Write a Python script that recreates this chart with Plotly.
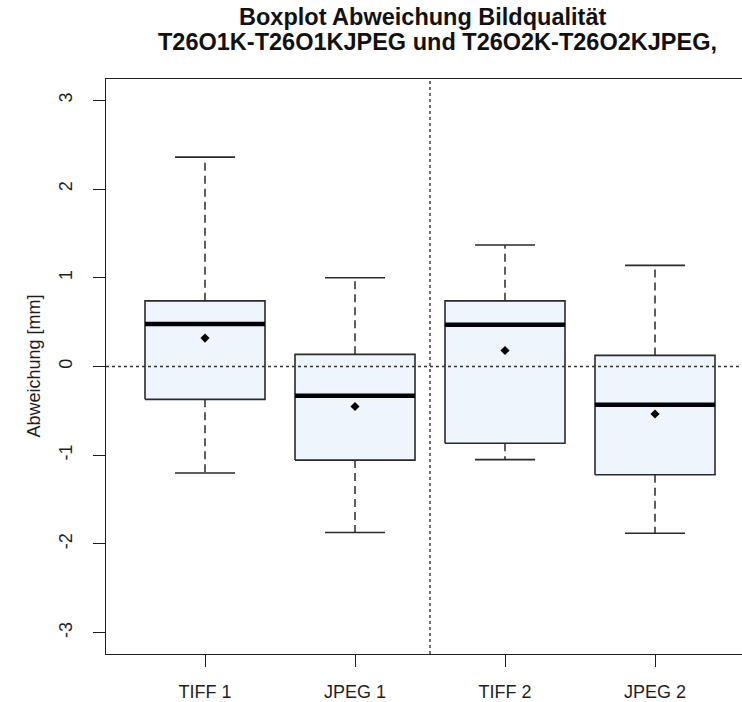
import plotly.graph_objects as go

# Five-number summaries and means per group (deviation in mm)
categories = ["TIFF 1", "JPEG 1", "TIFF 2", "JPEG 2"]
whisker_low = [-1.20, -1.87, -1.05, -1.88]
q1 = [-0.37, -1.055, -0.865, -1.22]
median = [0.48, -0.33, 0.47, -0.43]
q3 = [0.74, 0.137, 0.74, 0.125]
whisker_high = [2.36, 1.00, 1.37, 1.14]
means = [0.32, -0.45, 0.18, -0.535]

y_ticks = [-3, -2, -1, 0, 1, 2, 3]
y_tick_labels = [str(v) for v in y_ticks]
reference_level = 0
group_divider = 2.5

title_lines = ["Boxplot Abweichung Bildqualität",
               "T26O1K-T26O1KJPEG und T26O2K-T26O2KJPEG,"]
title_centers_px = [422, 437]
y_title = "Abweichung [mm]"

FONT = "Liberation Sans, Arial, sans-serif"
INK = "#1e1e1e"
BOX_FILL = "#eef5fd"
HALF_BOX = 0.4      # boxwex 0.8
HALF_CAP = 0.2      # staple half width
PLOT_LEFT, PLOT_WIDTH = 106, 636

fig = go.Figure()

for i, cat in enumerate(categories):
    pos = i + 1
    # box body
    fig.add_trace(go.Scatter(
        x=[pos - HALF_BOX, pos + HALF_BOX, pos + HALF_BOX, pos - HALF_BOX, pos - HALF_BOX],
        y=[q1[i], q1[i], q3[i], q3[i], q1[i]],
        mode="lines", fill="toself", fillcolor=BOX_FILL,
        line=dict(color="#2a2a2a", width=1.6), hoverinfo="skip"))
    # whiskers (dashed)
    fig.add_trace(go.Scatter(
        x=[pos, pos, None, pos, pos],
        y=[q3[i], whisker_high[i], None, q1[i], whisker_low[i]],
        mode="lines", line=dict(color="#2a2a2a", width=1.5, dash="8px,5px"),
        hoverinfo="skip"))
    # staples
    fig.add_trace(go.Scatter(
        x=[pos - HALF_CAP, pos + HALF_CAP, None, pos - HALF_CAP, pos + HALF_CAP],
        y=[whisker_high[i], whisker_high[i], None, whisker_low[i], whisker_low[i]],
        mode="lines", line=dict(color="#2a2a2a", width=1.6), hoverinfo="skip"))
    # median
    fig.add_trace(go.Scatter(
        x=[pos - HALF_BOX, pos + HALF_BOX], y=[median[i], median[i]],
        mode="lines", line=dict(color="#000000", width=4.5), hoverinfo="skip"))

# group means
fig.add_trace(go.Scatter(
    x=[i + 1 for i in range(len(categories))], y=means,
    mode="markers", marker=dict(symbol="diamond", size=7, color="#000000"),
    hoverinfo="skip"))

# dotted reference lines
fig.add_shape(type="line", xref="paper", yref="y", x0=0, x1=1,
              y0=reference_level, y1=reference_level, layer="above",
              line=dict(color="#333333", width=1.4, dash="3px,3px"))
fig.add_shape(type="line", xref="x", yref="paper", x0=group_divider, x1=group_divider,
              y0=0, y1=1, layer="above",
              line=dict(color="#333333", width=1.4, dash="3px,3px"))

# title lines and y-axis title
for k, line in enumerate(title_lines):
    fig.add_annotation(text="<b>" + line + "</b>", xref="paper", yref="paper",
                       x=(title_centers_px[k] - PLOT_LEFT) / PLOT_WIDTH,
                       y=1.107 - 0.0435 * k,
                       xanchor="center", yanchor="middle", showarrow=False,
                       font=dict(family=FONT, size=23.5, color="#111111"))
fig.add_annotation(text=y_title, xref="paper", yref="paper",
                   x=(33 - PLOT_LEFT) / PLOT_WIDTH, y=0.5, textangle=-90,
                   xanchor="center", yanchor="middle", showarrow=False,
                   font=dict(family=FONT, size=18, color=INK))

axis_common = dict(showgrid=False, zeroline=False, showline=True, linecolor=INK,
                   linewidth=1.4, ticks="outside", ticklen=12, tickwidth=1.4,
                   tickcolor=INK)

fig.update_xaxes(range=[0.34, 4.58], tickvals=[1, 2, 3, 4], ticktext=categories,
                 mirror=True, ticklabelstandoff=9,
                 tickfont=dict(family=FONT, size=18, color=INK), **axis_common)
fig.update_yaxes(range=[-3.24, 3.24], tickvals=y_ticks, ticktext=y_tick_labels,
                 tickangle=-90, ticklabelstandoff=14,
                 tickfont=dict(family=FONT, size=18, color=INK), **axis_common)

fig.update_layout(width=742, height=702, margin=dict(l=PLOT_LEFT, r=0, t=79, b=48),
                  plot_bgcolor="white", paper_bgcolor="white", showlegend=False,
                  font=dict(family=FONT, color=INK))

fig.write_html("out.html")
